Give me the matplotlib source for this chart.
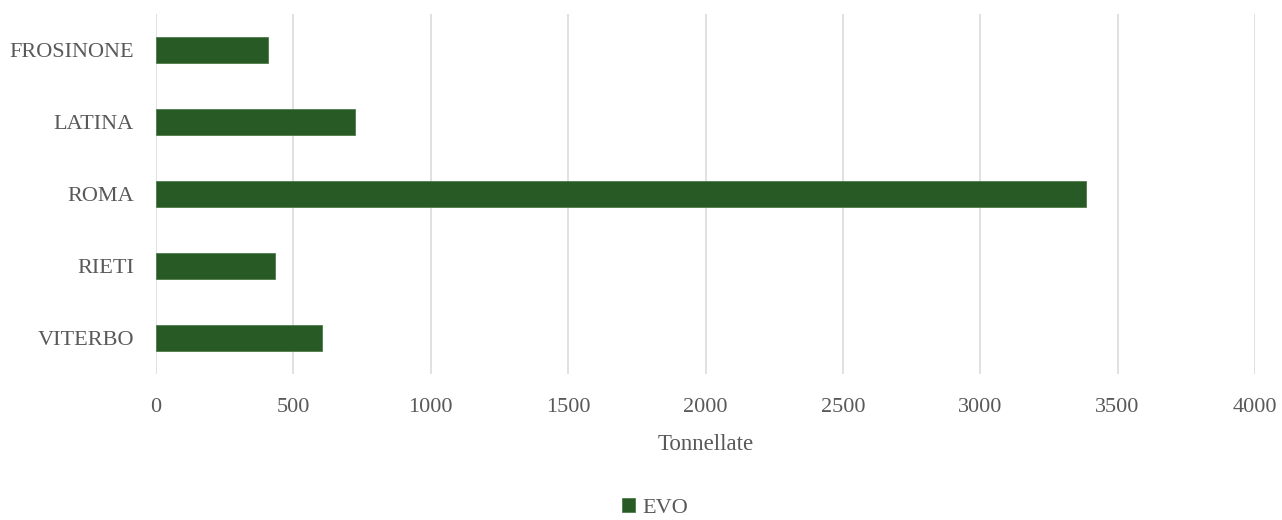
import matplotlib
matplotlib.use("Agg")
import matplotlib.pyplot as plt

provinces = ["VITERBO", "RIETI", "ROMA", "LATINA", "FROSINONE"]
evo_tonnes = [604, 433, 3384, 724, 408]
x_ticks = [0, 500, 1000, 1500, 2000, 2500, 3000, 3500, 4000]
series_name = "EVO"
x_label = "Tonnellate"

BAR_COLOR = "#285A26"
TEXT_COLOR = "#595959"
GRID_COLOR = "#D9D9D9"
FONT = ["Liberation Serif", "DejaVu Serif"]

W, H = 1282, 520
fig = plt.figure(figsize=(W / 100, H / 100), dpi=100)
ax = fig.add_axes([156 / W, (H - 374) / H, (1255 - 156) / W, 360 / H])

ax.barh(range(len(provinces)), evo_tonnes, height=0.35, color=BAR_COLOR,
        edgecolor="#4E7A4A", linewidth=0.6, label=series_name, zorder=3)

ax.set_xlim(0, 4000)
ax.set_ylim(-0.5, len(provinces) - 0.5)
ax.set_xticks(x_ticks)
ax.set_xticklabels([str(t) for t in x_ticks])
ax.set_yticks(range(len(provinces)))
ax.set_yticklabels(provinces)
ax.grid(axis="x", color=GRID_COLOR, linewidth=1.1, zorder=0)
ax.set_axisbelow(True)
for s in ax.spines.values():
    s.set_visible(False)
ax.tick_params(axis="both", length=0, labelcolor=TEXT_COLOR, labelsize=16)
ax.tick_params(axis="y", pad=16)
ax.tick_params(axis="x", pad=17.5)
for lbl in ax.get_xticklabels() + ax.get_yticklabels():
    lbl.set_family(FONT)

ax.set_xlabel(x_label, fontsize=16.5, color=TEXT_COLOR, family=FONT, labelpad=12)

fig.legend(loc="center", bbox_to_anchor=(655 / W, 12 / H), frameon=False,
           prop={"family": FONT, "size": 16}, labelcolor=TEXT_COLOR,
           handlelength=0.6, handleheight=0.6, handletextpad=0.3,
           borderpad=0.1)

fig.savefig("out.png", dpi=100)
